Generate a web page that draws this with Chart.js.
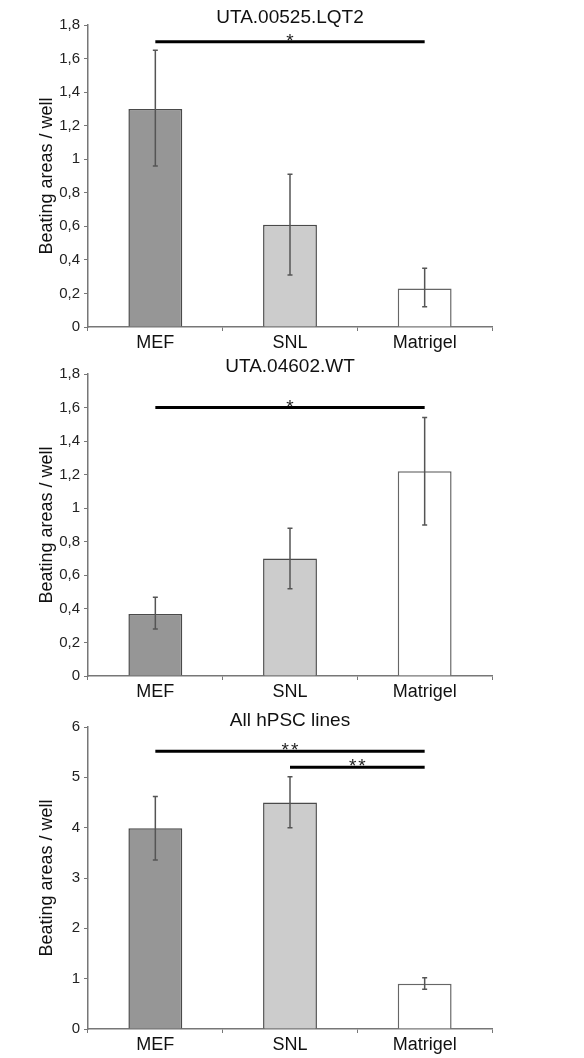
<!DOCTYPE html>
<html lang="en">
<head>
  <meta charset="UTF-8" />
  <title>Beating areas</title>
  <script src="https://cdn.jsdelivr.net/npm/chart.js"></script>
  <style>
    body { margin: 0; background: #fff; }
    .wrap { position: absolute; left: 0; width: 584px; }
  </style>
</head>
<body>
  <div class="wrap" style="top:0;height:360px"><canvas id="c1"></canvas></div>
  <div class="wrap" style="top:350px;height:356px"><canvas id="c2"></canvas></div>
  <div class="wrap" style="top:700px;height:358px"><canvas id="c3"></canvas></div>
<script>
  const categories = ['MEF', 'SNL', 'Matrigel'];

  // UTA.00525.LQT2
  const lqt2Means = [1.30, 0.61, 0.23];
  const lqt2Low = [0.96, 0.31, 0.12];
  const lqt2High = [1.65, 0.91, 0.35];
  const lqt2Sig = [{ from: 0, to: 2, y: 1.70, label: '*' }];

  // UTA.04602.WT
  const wtMeans = [0.37, 0.70, 1.22];
  const wtLow = [0.28, 0.52, 0.90];
  const wtHigh = [0.47, 0.88, 1.54];
  const wtSig = [{ from: 0, to: 2, y: 1.60, label: '*' }];

  // All hPSC lines
  const allMeans = [3.99, 4.50, 0.90];
  const allLow = [3.36, 4.00, 0.79];
  const allHigh = [4.62, 5.01, 1.02];
  const allSig = [
    { from: 0, to: 2, y: 5.52, label: '**' },
    { from: 1, to: 2, y: 5.20, label: '**' }
  ];

  const fillColors = ['#969696', '#cccccc', '#ffffff'];
  const font = "'Liberation Sans', Arial, sans-serif";

  // error bars, significance lines and the panel title
  const extras = {
    id: 'extras',
    afterDatasetsDraw(chart, args, opts) {
      const { ctx, chartArea, scales: { x, y } } = chart;
      ctx.save();
      ctx.strokeStyle = '#555';
      ctx.lineWidth = 1.5;
      opts.low.forEach((lo, i) => {
        const px = x.getPixelForValue(i);
        const y1 = y.getPixelForValue(lo);
        const y2 = y.getPixelForValue(opts.high[i]);
        ctx.beginPath();
        ctx.moveTo(px, y1); ctx.lineTo(px, y2);
        ctx.moveTo(px - 2.5, y1); ctx.lineTo(px + 2.5, y1);
        ctx.moveTo(px - 2.5, y2); ctx.lineTo(px + 2.5, y2);
        ctx.stroke();
      });

      ctx.strokeStyle = '#000';
      ctx.fillStyle = '#222';
      ctx.lineWidth = 3;
      ctx.font = '19px ' + font;
      ctx.letterSpacing = '2px';
      ctx.textAlign = 'center';
      ctx.textBaseline = 'alphabetic';
      opts.sig.forEach(s => {
        const x1 = x.getPixelForValue(s.from);
        const x2 = x.getPixelForValue(s.to);
        const py = y.getPixelForValue(s.y);
        ctx.beginPath();
        ctx.moveTo(x1, py); ctx.lineTo(x2, py);
        ctx.stroke();
        ctx.fillText(s.label, (x1 + x2) / 2 + 1, py + 5);
      });

      ctx.letterSpacing = '0px';
      ctx.font = '19px ' + font;
      ctx.fillStyle = '#111';
      ctx.textBaseline = 'middle';
      ctx.fillText(opts.title, (chartArea.left + chartArea.right) / 2, opts.titleY);
      ctx.restore();
    }
  };

  function makeChart(id, title, titleY, means, low, high, sig, yMax, step, top, xHeight) {
    return new Chart(document.getElementById(id), {
      type: 'bar',
      data: {
        labels: categories,
        datasets: [{
          data: means,
          backgroundColor: fillColors,
          borderColor: ['#4a4a4a', '#4a4a4a', '#666'],
          borderWidth: 1.5,
          borderSkipped: 'bottom',
          categoryPercentage: 0.8,
          barPercentage: 0.5
        }]
      },
      options: {
        responsive: true,
        maintainAspectRatio: false,
        animation: false,
        layout: { padding: { top: top, right: 92, left: 0, bottom: 0 } },
        plugins: {
          legend: { display: false },
          tooltip: { enabled: false },
          extras: { title: title, titleY: titleY, low: low, high: high, sig: sig }
        },
        scales: {
          x: {
            border: { color: '#777', width: 1.5 },
            grid: { drawOnChartArea: false, tickLength: 4, color: '#777' },
            ticks: { color: '#111', padding: 1, font: { family: font, size: 18 } },
            afterFit(scale) { scale.height = xHeight; }
          },
          y: {
            min: 0,
            max: yMax,
            border: { color: '#777', width: 1.5 },
            grid: { drawOnChartArea: false, tickLength: 4, color: '#777' },
            ticks: {
              stepSize: step,
              color: '#222',
              padding: 4,
              font: { family: font, size: 15 },
              callback: v => Number(v.toFixed(1)).toString().replace('.', ',')
            },
            title: {
              display: true,
              text: 'Beating areas / well',
              color: '#111',
              font: { family: font, size: 18 },
              padding: { top: 36, bottom: 0 }
            },
            afterFit(scale) { scale.width = 88; }
          }
        }
      },
      plugins: [extras]
    });
  }

  makeChart('c1', 'UTA.00525.LQT2', 18, lqt2Means, lqt2Low, lqt2High, lqt2Sig, 1.8, 0.2, 25, 33);
  makeChart('c2', 'UTA.04602.WT', 17, wtMeans, wtLow, wtHigh, wtSig, 1.8, 0.2, 24, 30);
  makeChart('c3', 'All hPSC lines', 21, allMeans, allLow, allHigh, allSig, 6, 1, 27, 29);
</script>
</body>
</html>
